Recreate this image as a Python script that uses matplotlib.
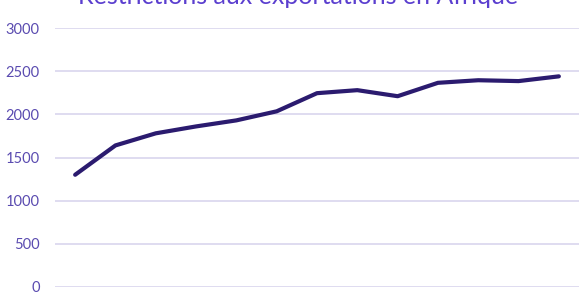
import matplotlib.pyplot as plt
import numpy as np

# values (x labels are cut off in the original)
points = list(range(13))
restrictions = [1300, 1640, 1780, 1860, 1930, 2035, 2245, 2280, 2210, 2365, 2395, 2385, 2440]
yticks = [0, 500, 1000, 1500, 2000, 2500, 3000]

title_col = "#5b3fcf"
tick_col = "#5a4bb0"
line_col = "#2b1b6f"
grid_col = "#d9d5ee"

plt.rcParams['font.family'] = ['Lato', 'DejaVu Sans']

fig = plt.figure(figsize=(5.85, 3.0), dpi=100)
ax = fig.add_axes([55/585, 13/300, (579-55)/585, (287-28)/300])

ax.plot(points, restrictions, color=line_col, linewidth=3, solid_capstyle='round', zorder=3)

ax.set_xlim(-0.5, 12.5)
ax.set_ylim(0, 3000)
ax.set_yticks(yticks)
ax.set_xticks([])
ax.yaxis.grid(True, color=grid_col, linewidth=1.2)
ax.tick_params(axis='y', length=0, pad=11, labelsize=10.5, labelcolor=tick_col)
for s in ax.spines.values():
    s.set_visible(False)

# title is cut off at the top edge in the original, keep it that way
fig.text(0.51, 1 - 4/300, "Restrictions aux exportations en Afrique", ha='center', va='baseline',
         fontsize=18, color=title_col)

fig.savefig("out.png", dpi=100)
